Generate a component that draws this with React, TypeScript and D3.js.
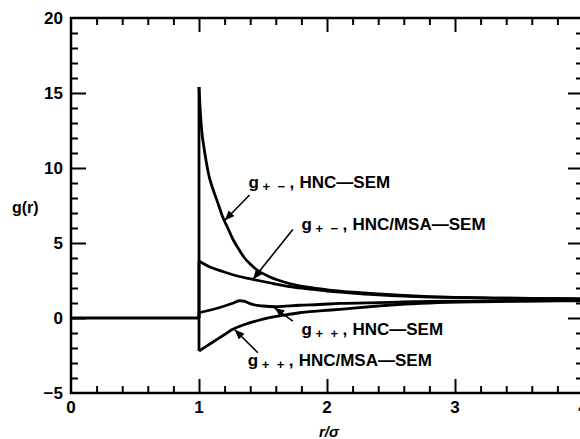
import React, { useEffect, useRef } from 'react'
import * as d3 from 'd3'

// r/sigma and g(r) (r >= 1; g = 0 inside the core)
const coreR = [0, 1]
const coreG = [0, 0]

const pmHncR = [1.0, 1.01, 1.02, 1.04, 1.058, 1.08, 1.11, 1.15, 1.187, 1.23, 1.265, 1.31, 1.356, 1.4, 1.446, 1.55, 1.705, 1.85, 2.0, 2.2, 2.4, 2.6, 2.8, 3.0, 3.3, 3.6, 4.0]
const pmHncG = [15.4, 13.8, 12.6, 11.3, 10.35, 9.4, 8.57, 7.6, 6.7, 5.9, 5.25, 4.6, 4.0, 3.6, 3.25, 2.75, 2.3, 2.05, 1.88, 1.72, 1.6, 1.5, 1.42, 1.37, 1.33, 1.3, 1.28]

const pmMsaR = [1.0, 1.05, 1.1, 1.185, 1.3, 1.42, 1.55, 1.705, 1.85, 2.0, 2.1, 2.3, 2.5, 2.7, 3.0, 3.3, 3.6, 4.0]
const pmMsaG = [3.8, 3.55, 3.35, 3.1, 2.8, 2.58, 2.35, 2.1, 1.95, 1.8, 1.72, 1.6, 1.5, 1.43, 1.37, 1.33, 1.3, 1.28]

const ppHncR = [1.0, 1.1, 1.2, 1.27, 1.316, 1.35, 1.41, 1.5, 1.6, 1.785, 1.94, 2.1, 2.4, 2.56, 2.8, 3.2, 3.6, 4.0]
const ppHncG = [0.35, 0.55, 0.8, 1.0, 1.15, 1.12, 0.92, 0.8, 0.75, 0.85, 0.9, 0.97, 1.03, 1.06, 1.1, 1.13, 1.15, 1.17]

const ppMsaR = [1.0, 1.1, 1.2, 1.26, 1.35, 1.446, 1.55, 1.65, 1.785, 1.94, 2.1, 2.4, 2.56, 2.8, 3.2, 3.6, 4.0]
const ppMsaG = [-2.2, -1.65, -1.1, -0.77, -0.45, -0.2, 0.02, 0.17, 0.35, 0.47, 0.58, 0.8, 0.9, 1.0, 1.08, 1.12, 1.15]

const series = [
  { r: pmHncR, g: pmHncG },
  { r: pmMsaR, g: pmMsaG },
  { r: ppHncR, g: ppHncG },
  { r: ppMsaR, g: ppMsaG },
]

const xMajor = [0, 1, 2, 3, 4]
const yMajor = [-5, 0, 5, 10, 15, 20]
const yLabels = ['\u22125', '0', '5', '10', '15', '20']

// labels: anchor (r, g), subscript signs, model name
const labels = [
  { r: 1.387, g: 8.7, sub: ['+', '\u2212'], text: 'HNC\u2014SEM' },
  { r: 1.80, g: 5.9, sub: ['+', '\u2212'], text: 'HNC/MSA\u2014SEM' },
  { r: 1.80, g: -1.1, sub: ['+', '+'], text: 'HNC\u2014SEM' },
  { r: 1.38, g: -3.23, sub: ['+', '+'], text: 'HNC/MSA\u2014SEM' },
]

// arrows: from (r0,g0) to tip (r1,g1)
const arrows = [
  { r0: 1.395, g0: 8.2, r1: 1.2, g1: 6.5 },
  { r0: 1.733, g0: 5.9, r1: 1.421, g1: 2.57 },
  { r0: 1.733, g0: -0.21, r1: 1.59, g1: 0.68 },
  { r0: 1.46, g0: -2.32, r1: 1.278, g1: -0.77 },
]

const W = 580
const H = 439
const FONT = 'Liberation Sans, Arial, Helvetica, sans-serif'

const App = () => {
  const ref = useRef<SVGSVGElement>(null)

  useEffect(() => {
    const svg = d3.select(ref.current)
    svg.selectAll('*').remove()

    const x = d3.scaleLinear().domain([0, 4]).range([71, 583])
    const y = d3.scaleLinear().domain([-5, 20]).range([393, 18])

    const defs = svg.append('defs')
    defs.append('marker')
      .attr('id', 'head')
      .attr('markerUnits', 'userSpaceOnUse')
      .attr('markerWidth', 12)
      .attr('markerHeight', 10)
      .attr('refX', 10)
      .attr('refY', 4)
      .attr('orient', 'auto')
      .append('path')
      .attr('d', 'M0,0 L10,4 L0,8 Z')
      .attr('fill', '#000')

    // inward ticks on all four sides
    const xMinor = d3.range(0, 4.001, 0.2).filter(v => Math.abs(v - Math.round(v)) > 1e-6)
    const yMinor = d3.range(-5, 20.001, 1).filter(v => v % 5 !== 0)

    const addAxis = (axis: any, tx: number, ty: number) => {
      const g = svg.append('g').attr('transform', `translate(${tx},${ty})`).call(axis)
      g.select('.domain').remove()
      g.selectAll('line').attr('stroke', '#000').attr('stroke-width', 2)
      g.selectAll('text').remove()
    }
    addAxis(d3.axisBottom(x).tickValues(xMinor).tickSize(-7), 0, 393)
    addAxis(d3.axisBottom(x).tickValues([1, 2, 3]).tickSize(-14), 0, 393)
    addAxis(d3.axisTop(x).tickValues(xMinor).tickSize(-7), 0, 18)
    addAxis(d3.axisTop(x).tickValues([1, 2, 3]).tickSize(-14), 0, 18)
    addAxis(d3.axisLeft(y).tickValues(yMinor).tickSize(-7), 71, 0)
    addAxis(d3.axisLeft(y).tickValues([0, 5, 10, 15]).tickSize(-15), 71, 0)
    addAxis(d3.axisRight(y).tickValues(yMinor).tickSize(-7), 583, 0)
    addAxis(d3.axisRight(y).tickValues([0, 5, 10, 15]).tickSize(-15), 583, 0)

    svg.append('rect')
      .attr('x', x(0)).attr('y', y(20))
      .attr('width', x(4) - x(0)).attr('height', y(-5) - y(20))
      .attr('fill', 'none').attr('stroke', '#000').attr('stroke-width', 2.5)

    // tick labels
    svg.append('g').selectAll('text').data(yMajor).join('text')
      .attr('x', 63).attr('y', d => y(d) + 6)
      .attr('text-anchor', 'end')
      .attr('font-family', FONT).attr('font-weight', 'bold').attr('font-size', 17)
      .text((d, i) => yLabels[i])
    svg.append('g').selectAll('text').data(xMajor).join('text')
      .attr('x', d => x(d)).attr('y', 413)
      .attr('text-anchor', 'middle')
      .attr('font-family', FONT).attr('font-weight', 'bold').attr('font-size', 17)
      .text(d => String(d))

    svg.append('text').attr('x', 12).attr('y', 213)
      .attr('font-family', FONT).attr('font-weight', 'bold').attr('font-size', 16)
      .text('g(r)')
    svg.append('text').attr('x', 329).attr('y', 437)
      .attr('text-anchor', 'middle')
      .attr('font-family', FONT).attr('font-weight', 'bold').attr('font-style', 'italic').attr('font-size', 15)
      .text('r/\u03c3')

    // curves
    const lin = d3.line<[number, number]>().x(d => x(d[0])).y(d => y(d[1]))
    const smooth = d3.line<[number, number]>().x(d => x(d[0])).y(d => y(d[1])).curve(d3.curveMonotoneX)

    svg.append('path')
      .attr('d', lin(coreR.map((r, i) => [r, coreG[i]] as [number, number])))
      .attr('fill', 'none').attr('stroke', '#000').attr('stroke-width', 2.8)

    series.forEach(s => {
      const pts = s.r.map((r, i) => [r, s.g[i]] as [number, number])
      svg.append('path')
        .attr('d', lin([[1, 0], pts[0]]))
        .attr('fill', 'none').attr('stroke', '#000').attr('stroke-width', 2.8)
      svg.append('path')
        .attr('d', smooth(pts))
        .attr('fill', 'none').attr('stroke', '#000').attr('stroke-width', 2.8)
        .attr('stroke-linejoin', 'round')
    })

    // arrows
    svg.append('g').selectAll('line').data(arrows).join('line')
      .attr('x1', d => x(d.r0)).attr('y1', d => y(d.g0))
      .attr('x2', d => x(d.r1)).attr('y2', d => y(d.g1))
      .attr('stroke', '#000').attr('stroke-width', 1.6)
      .attr('marker-end', 'url(#head)')

    // labels
    labels.forEach(l => {
      const x0 = x(l.r)
      const y0 = y(l.g)
      const t = svg.append('text')
        .attr('font-family', FONT).attr('font-weight', 'bold').attr('font-size', 17)
      t.append('tspan').attr('x', x0).attr('y', y0).text('g')
      t.append('tspan').attr('x', x0 + 14).attr('y', y0 + 3).attr('font-size', 13).text(l.sub[0])
      t.append('tspan').attr('x', x0 + 29).attr('y', y0 + 3).attr('font-size', 13).text(l.sub[1])
      t.append('tspan').attr('x', x0 + 41).attr('y', y0).text(',')
      t.append('tspan').attr('x', x0 + 51).attr('y', y0).text(l.text)
    })
  }, [])

  return (
    <svg ref={ref} width={W} height={H}
      style={{ position: 'absolute', left: 0, top: 0, background: '#fff' }} />
  )
}

export default App
